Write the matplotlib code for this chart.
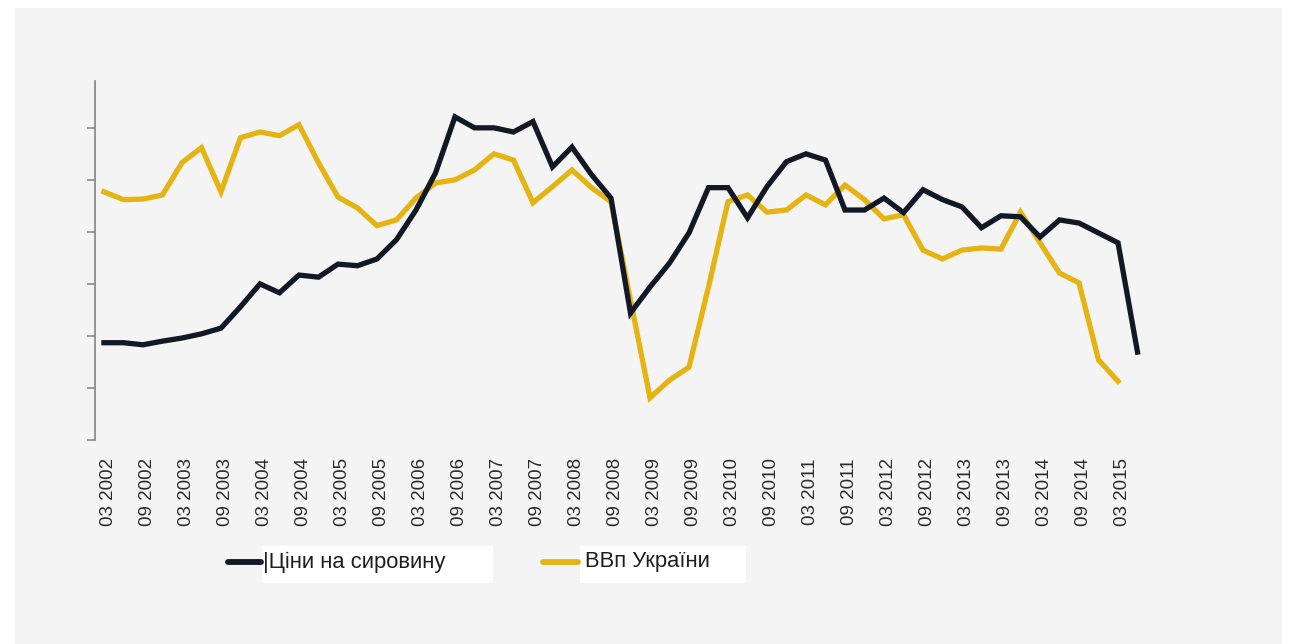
import matplotlib
matplotlib.use("Agg")
import matplotlib.pyplot as plt
import matplotlib.transforms as mtransforms
from matplotlib.patches import Rectangle
from matplotlib.lines import Line2D

W, H = 1292, 644

# Quarterly data, 03 2002 ... 06 2015 (index units of the unlabeled y axis)
commodity_prices = [1.87, 1.87, 1.83, 1.90, 1.96, 2.04, 2.15, 2.56, 3.00, 2.83,
                    3.17, 3.13, 3.38, 3.35, 3.48, 3.85, 4.42, 5.13, 6.21, 6.00,
                    6.00, 5.92, 6.12, 5.25, 5.63, 5.10, 4.65, 2.44, 2.94, 3.40,
                    3.98, 4.85, 4.85, 4.27, 4.87, 5.35, 5.50, 5.38, 4.42, 4.42,
                    4.65, 4.37, 4.81, 4.62, 4.48, 4.08, 4.31, 4.29, 3.90, 4.23,
                    4.17, 3.98, 3.79, 1.69]
ukraine_gdp = [4.77, 4.62, 4.63, 4.71, 5.33, 5.62, 4.77, 5.81, 5.92, 5.85,
               6.06, 5.33, 4.67, 4.46, 4.12, 4.23, 4.65, 4.94, 5.00, 5.19,
               5.50, 5.38, 4.56, 4.87, 5.19, 4.85, 4.58, 2.69, 0.81, 1.15,
               1.40, 2.94, 4.58, 4.71, 4.38, 4.42, 4.71, 4.52, 4.90, 4.62,
               4.25, 4.33, 3.65, 3.48, 3.65, 3.69, 3.67, 4.38, 3.79, 3.21,
               3.02, 1.54, 1.13]

tick_labels = [f"{m} {y}" for y in range(2002, 2016) for m in ("03", "09")][:27]
series_names = ["|Ціни на сировину", "ВВп України"]
colors = ["#121826", "#e5b312"]

fig = plt.figure(figsize=(W / 100, H / 100), dpi=100, facecolor="white")

# light grey panel
fig.patches.append(Rectangle((15 / W, 0), (1282 - 15) / W, (644 - 8) / H,
                             transform=fig.transFigure, facecolor="#f4f4f4",
                             edgecolor="none", zorder=-5))

left_px, right_px, top_px, bottom_px = 95, 1157, 81, 440
ax = fig.add_axes([left_px / W, 1 - bottom_px / H,
                   (right_px - left_px) / W, (bottom_px - top_px) / H])
ax.set_facecolor("none")
ax.set_zorder(2)

x_c = list(range(len(commodity_prices)))
x_g = list(range(len(ukraine_gdp)))
ax.plot(x_c, commodity_prices, color=colors[0], lw=3.8, solid_joinstyle="miter", zorder=3)
ax.plot(x_g, ukraine_gdp, color=colors[1], lw=3.8, solid_joinstyle="miter", zorder=2)

ax.set_xlim(-0.46, 54)
ax.set_ylim(0, 6.9)

for s in ("top", "right", "bottom"):
    ax.spines[s].set_visible(False)
ax.spines["left"].set_color("#8a8a8a")
ax.spines["left"].set_linewidth(1.3)
ax.set_yticks(range(0, 7))
ax.set_yticklabels([])
ax.tick_params(axis="y", length=6, width=1.2, color="#8a8a8a", direction="out")

ax.set_xticks(range(0, 53, 2))
ax.set_xticklabels(tick_labels, rotation=90, fontsize=13.5, color="#2b2b2b",
                   family=["Liberation Sans", "DejaVu Sans"])
ax.tick_params(axis="x", length=0, pad=13)
shift = mtransforms.ScaledTranslation(5 / 100, 0, fig.dpi_scale_trans)
for lbl in ax.get_xticklabels():
    lbl.set_transform(lbl.get_transform() + shift)

# legend (manual)
def legend_item(x0, x1, tx, box0, box1, label, color):
    fig.patches.append(Rectangle((box0 / W, 1 - 583 / H), (box1 - box0) / W, 37 / H,
                                 transform=fig.transFigure, facecolor="white",
                                 edgecolor="none", zorder=1))
    fig.lines.append(Line2D([x0 / W, x1 / W], [1 - 562 / H, 1 - 562 / H],
                            transform=fig.transFigure, color=color, lw=4.2,
                            solid_capstyle="round", zorder=2))
    fig.text(tx / W, 1 - 562 / H, label, fontsize=15.8, color="#1e1e1e",
             va="center", ha="left", family=["Liberation Sans", "DejaVu Sans"], zorder=3)

legend_item(228, 261, 263, 262, 493, series_names[0], colors[0])
legend_item(543, 578, 585, 580, 746, series_names[1], colors[1])

fig.savefig("out.png", dpi=100, facecolor="white")
